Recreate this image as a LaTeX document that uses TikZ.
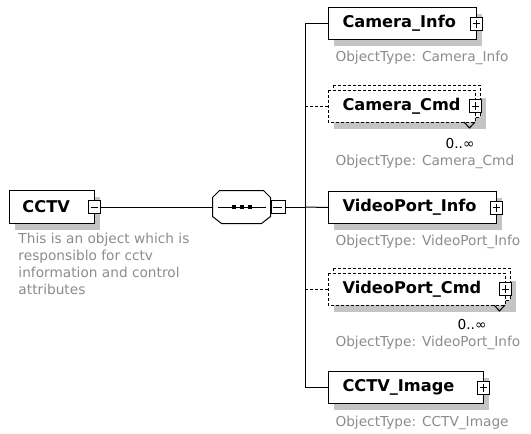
\documentclass[tikz,border=0pt]{standalone}
\usepackage{fontspec}
\setmainfont{DejaVu Sans}
\definecolor{descgrey}{HTML}{8C8C8C}
\definecolor{shadowgrey}{HTML}{C4C4C4}
\begin{document}
\begin{tikzpicture}[x=1pt,y=-1pt,line width=1pt,
  lbl/.style={font=\fontsize{16.2}{18}\selectfont\bfseries, anchor=west, inner sep=0},
  desc/.style={font=\fontsize{13.7}{17}\selectfont, text=descgrey, anchor=west, inner sep=0, align=left},
  elbox/.style={draw, fill=white, anchor=west, minimum height=31, inner sep=0},
  sq/.style={draw, solid, fill=white, minimum width=12, minimum height=13, inner sep=0, line width=0.9pt},
  plus/.style={sq, path picture={
     \draw[line width=0.9pt] ([xshift=2.5pt]path picture bounding box.west) -- ([xshift=-2.5pt]path picture bounding box.east);
     \draw[line width=0.9pt] ([yshift=-2.5pt]path picture bounding box.north) -- ([yshift=2.5pt]path picture bounding box.south);}},
  minus/.style={sq, path picture={
     \draw[line width=0.9pt] ([xshift=2.5pt]path picture bounding box.west) -- ([xshift=-2.5pt]path picture bounding box.east);}},
  shadow/.style={fill=shadowgrey, draw=none}
]
\useasboundingbox (0,0) rectangle (531,434);

% ---------- root element CCTV ----------
\node[elbox, minimum width=84, minimum height=32, draw=none, fill=none] (cctv) at (9,207) {};
\fill[shadow] ([shift={(6,6)}]cctv.north west) rectangle ([shift={(6,6)}]cctv.south east);
\draw[fill=white] (cctv.north west) rectangle (cctv.south east);
\node[lbl] (cctvt) at ([xshift=13pt]cctv.west) {CCTV};
\node[minus] (cctvm) at (cctv.east) {};
\node[desc, anchor=north west] (cctvd) at (18,233) {This is an object which is\\responsiblo for cctv\\information and control\\attributes};

% ---------- sequence compositor ----------
\node[minimum width=57, minimum height=32, inner sep=0] (seq) at (241.5,207) {};
\fill[shadow, shift={(6,6)}] ([xshift=7]seq.north west) -- ([xshift=-7]seq.north east) -- ([yshift=-7]seq.north east) -- ([yshift=7]seq.south east) -- ([xshift=-9]seq.south east) -- ([xshift=9]seq.south west) -- ([yshift=7]seq.south west) -- ([yshift=-7]seq.north west) -- cycle;
\draw[fill=white] ([xshift=7]seq.north west) -- ([xshift=-7]seq.north east) -- ([yshift=-7]seq.north east) -- ([yshift=7]seq.south east) -- ([xshift=-9]seq.south east) -- ([xshift=9]seq.south west) -- ([yshift=7]seq.south west) -- ([yshift=-7]seq.north west) -- cycle;
\draw ([xshift=5]seq.west) -- ([xshift=-5]seq.east);
\foreach \dx in {-8,0,8} \fill ([xshift=\dx pt]seq.center) +(-2,-2) rectangle +(2,2);
\node[minus, anchor=west, minimum width=14] (seqm) at (seq.east) {};
\draw (cctvm.east) -- (seq.west);

% ---------- trunk ----------
\coordinate (tTop) at (305,23.5);
\coordinate (tMid) at (305,207);
\coordinate (tBot) at (305,387.5);
\draw (tTop) -- (tBot);
\draw (seqm.east) -- (tMid);

% ---------- Camera_Info ----------
\node[elbox, minimum width=147, draw=none, fill=none] (ci) at (328,23.5) {};
\fill[shadow] ([shift={(6,6)}]ci.north west) rectangle ([shift={(6,6)}]ci.south east);
\draw[fill=white] (ci.north west) rectangle (ci.south east);
\node[lbl] (cit) at ([xshift=14pt]ci.west) {Camera\_Info};
\node[plus] (cip) at (ci.east) {};
\draw (tTop) -- (ci.west);
\node[desc] (cid) at (335,58) {ObjectType: Camera\_Info};

% ---------- Camera_Cmd (optional, multiple) ----------
\node[elbox, minimum width=146, draw=none, fill=none] (cc) at (328,106) {};
\fill[shadow] ([shift={(6,8)}]cc.north west) rectangle ([shift={(11,7)}]cc.south east);
\draw[fill=white, dash pattern=on 3pt off 2pt] ([shift={(5,-5)}]cc.north west) rectangle ([shift={(5,-5)}]cc.south east);
\draw[fill=white, dash pattern=on 3pt off 2pt] (cc.north west) rectangle (cc.south east);
\node[lbl] (cct) at ([xshift=14pt]cc.west) {Camera\_Cmd};
\node[plus] (ccp) at (cc.east) {};
\draw ([xshift=-11]cc.south east) -- ++(5.5,6) -- ++(5.5,-6);
\draw[dash pattern=on 3pt off 2pt] (tTop |- cc.west) -- (cc.west);
\node[desc, text=black, anchor=east] (ccm) at (475,144) {0..∞};
\node[desc] (ccd) at (335,162) {ObjectType: Camera\_Cmd};

% ---------- VideoPort_Info ----------
\node[elbox, minimum width=167, draw=none, fill=none] (vi) at (328,207.5) {};
\fill[shadow] ([shift={(6,6)}]vi.north west) rectangle ([shift={(6,6)}]vi.south east);
\draw[fill=white] (vi.north west) rectangle (vi.south east);
\node[lbl] (vit) at ([xshift=14pt]vi.west) {VideoPort\_Info};
\node[plus] (vip) at (vi.east) {};
\draw (tMid) -- (vi.west);
\node[desc] (vid) at (335,242) {ObjectType: VideoPort\_Info};

% ---------- VideoPort_Cmd (optional, multiple) ----------
\node[elbox, minimum width=176, draw=none, fill=none] (vc) at (328,289) {};
\fill[shadow] ([shift={(6,8)}]vc.north west) rectangle ([shift={(11,7)}]vc.south east);
\draw[fill=white, dash pattern=on 3pt off 2pt] ([shift={(5,-5)}]vc.north west) rectangle ([shift={(5,-5)}]vc.south east);
\draw[fill=white, dash pattern=on 3pt off 2pt] (vc.north west) rectangle (vc.south east);
\node[lbl] (vct) at ([xshift=14pt]vc.west) {VideoPort\_Cmd};
\node[plus] (vcp) at (vc.east) {};
\draw ([xshift=-11]vc.south east) -- ++(5.5,6) -- ++(5.5,-6);
\draw[dash pattern=on 3pt off 2pt] (tTop |- vc.west) -- (vc.west);
\node[desc, text=black, anchor=east] (vcm) at (487,325) {0..∞};
\node[desc] (vcd) at (335,343) {ObjectType: VideoPort\_Info};

% ---------- CCTV_Image ----------
\node[elbox, minimum width=154, draw=none, fill=none] (img) at (328,387.5) {};
\fill[shadow] ([shift={(6,6)}]img.north west) rectangle ([shift={(6,6)}]img.south east);
\draw[fill=white] (img.north west) rectangle (img.south east);
\node[lbl] (imgt) at ([xshift=14pt]img.west) {CCTV\_Image};
\node[plus] (imgp) at (img.east) {};
\draw (tBot) -- (img.west);
\node[desc] (imgd) at (335,423) {ObjectType: CCTV\_Image};
\end{tikzpicture}
\end{document}
